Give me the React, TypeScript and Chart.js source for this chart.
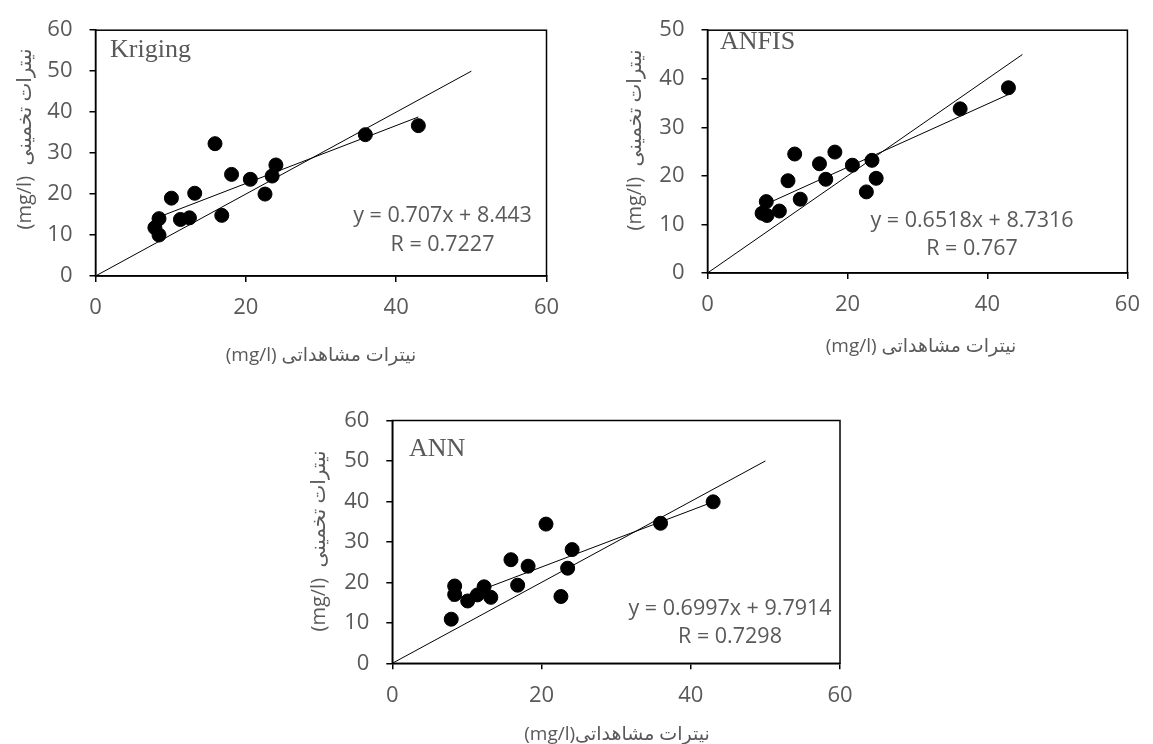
import React, { useEffect, useRef } from 'react';
import { Chart, registerables } from 'chart.js';

Chart.register(...registerables);

// ---------------- Data ----------------
const krigingObserved = [15.9, 10.1, 13.2, 8.45, 7.9, 8.45, 11.3, 12.5, 16.8, 18.1, 20.6, 22.55, 23.5, 24.0, 35.9, 42.95];
const krigingPredicted = [32.3, 19.0, 20.2, 14.0, 11.8, 10.0, 13.8, 14.2, 14.8, 24.8, 23.6, 20.0, 24.4, 27.1, 34.5, 36.7];

const anfisObserved = [12.46, 18.2, 16.0, 20.7, 23.5, 11.5, 16.9, 24.1, 22.7, 13.25, 8.4, 7.8, 8.5, 10.27, 36.1, 43.0];
const anfisPredicted = [24.5, 24.9, 22.5, 22.2, 23.2, 19.0, 19.3, 19.5, 16.7, 15.2, 14.7, 12.3, 11.85, 12.76, 33.8, 38.15];

const annObserved = [20.6, 24.1, 15.9, 18.2, 23.5, 8.36, 8.36, 16.8, 12.3, 11.4, 10.1, 13.2, 22.6, 7.9, 35.95, 43.0];
const annPredicted = [34.4, 28.1, 25.6, 24.0, 23.5, 19.1, 17.0, 19.3, 18.9, 16.9, 15.4, 16.3, 16.5, 10.9, 34.6, 39.9];

const modelNames = ['Kriging', 'ANFIS', 'ANN'];
const trendSlopes = [0.707, 0.6518, 0.6997];
const trendIntercepts = [8.443, 8.7316, 9.7914];
const equationLabels = ['y = 0.707x + 8.443', 'y = 0.6518x + 8.7316', 'y = 0.6997x + 9.7914'];
const rLabels = ['R = 0.7227', 'R = 0.767', 'R = 0.7298'];
const identityLineEnds = [50, 45, 50];
const xAxisMax = [60, 60, 60];
const yAxisMax = [60, 50, 60];
const xTickStep = 20;
const yTickStep = 10;
const unitLabel = '(mg/l)';
const xAxisWords = ['نیترات مشاهداتی', 'نیترات مشاهداتی', 'نیترات مشاهداتی'];
const xAxisGaps = [' ', ' ', ''];
const yAxisWords = ['نیترات تخمینی', 'نیترات تخمینی', 'نیترات تخمینی'];
const yAxisGaps = ['  ', '  ', '  '];

const observedSets = [krigingObserved, anfisObserved, annObserved];
const predictedSets = [krigingPredicted, anfisPredicted, annPredicted];

// ---------------- Layout (page pixels) ----------------
type Layout = {
  canvas: { left: number; top: number; width: number; height: number };
  plot: { left: number; top: number; right: number; bottom: number };
  model: { x: number; y: number };
  eq: { x: number; y: number };
  r: { x: number; y: number };
  xTitle: { x: number; y: number };
  yTitle: { x: number; y: number };
};

const layouts: Layout[] = [
  {
    canvas: { left: 0, top: 0, width: 575, height: 372 },
    plot: { left: 95.5, top: 25, right: 546.5, bottom: 276 },
    model: { x: 110, y: 57.3 },
    eq: { x: 442.5, y: 221.7 },
    r: { x: 442.5, y: 250.5 },
    xTitle: { x: 321, y: 361 },
    yTitle: { x: 31, y: 139 },
  },
  {
    canvas: { left: 600, top: 0, width: 553, height: 372 },
    plot: { left: 707.5, top: 17, right: 1137, bottom: 273 },
    model: { x: 720, y: 49.3 },
    eq: { x: 972, y: 226.7 },
    r: { x: 972, y: 255 },
    xTitle: { x: 921, y: 352 },
    yTitle: { x: 641, y: 140 },
  },
  {
    canvas: { left: 290, top: 390, width: 580, height: 354 },
    plot: { left: 392.3, top: 420.5, right: 840, bottom: 663.3 },
    model: { x: 409, y: 456 },
    eq: { x: 730, y: 615 },
    r: { x: 730, y: 643.3 },
    xTitle: { x: 617, y: 740 },
    yTitle: { x: 325, y: 541 },
  },
];

const GRAY = '#595959';
const SANS = '"Open Sans", "DejaVu Sans", sans-serif';
const SERIF = '"Liberation Serif", "DejaVu Serif", serif';

function drawMixed(ctx: CanvasRenderingContext2D, latin: string, gap: string, persian: string, cx: number, y: number) {
  ctx.direction = 'ltr';
  const w1 = ctx.measureText(latin).width;
  const wg = gap ? ctx.measureText(gap).width : 0;
  ctx.direction = 'rtl';
  const w2 = ctx.measureText(persian).width;
  const total = w1 + wg + w2;
  const x0 = cx - total / 2;
  ctx.direction = 'ltr';
  ctx.textAlign = 'left';
  ctx.fillText(latin, x0, y);
  ctx.direction = 'rtl';
  ctx.textAlign = 'right';
  ctx.fillText(persian, x0 + total, y);
  ctx.direction = 'ltr';
}

function makeAnnotationPlugin(i: number) {
  const lay = layouts[i];
  return {
    id: 'annot' + i,
    afterDraw(chart: any) {
      const { ctx, chartArea } = chart;
      const ox = lay.canvas.left;
      const oy = lay.canvas.top;
      ctx.save();
      // plot frame
      ctx.strokeStyle = '#000';
      ctx.lineWidth = 1.5;
      ctx.strokeRect(chartArea.left, chartArea.top, chartArea.right - chartArea.left, chartArea.bottom - chartArea.top);

      // model label
      ctx.fillStyle = GRAY;
      ctx.font = `26px ${SERIF}`;
      ctx.textAlign = 'left';
      ctx.textBaseline = 'alphabetic';
      ctx.fillText(modelNames[i], lay.model.x - ox, lay.model.y - oy);

      // equation & R
      ctx.font = `21.5px ${SANS}`;
      ctx.textAlign = 'center';
      ctx.fillText(equationLabels[i], lay.eq.x - ox, lay.eq.y - oy);
      ctx.fillText(rLabels[i], lay.r.x - ox, lay.r.y - oy);

      // axis titles
      ctx.font = `19px ${SANS}`;
      drawMixed(ctx, unitLabel, xAxisGaps[i], xAxisWords[i], lay.xTitle.x - ox, lay.xTitle.y - oy);
      ctx.save();
      ctx.translate(lay.yTitle.x - ox, lay.yTitle.y - oy);
      ctx.rotate(-Math.PI / 2);
      ctx.font = `20px ${SANS}`;
      drawMixed(ctx, unitLabel, yAxisGaps[i], yAxisWords[i], 0, 0);
      ctx.restore();
      ctx.restore();
    },
  };
}

function ScatterPanel({ index }: { index: number }) {
  const ref = useRef<HTMLCanvasElement | null>(null);
  const lay = layouts[index];

  useEffect(() => {
    if (!ref.current) return;
    const xs = observedSets[index];
    const ys = predictedSets[index];
    const points = xs.map((x, k) => ({ x, y: ys[k] }));
    const xMin = Math.min(...xs);
    const xMax = Math.max(...xs);
    const m = trendSlopes[index];
    const b = trendIntercepts[index];
    const trend = [
      { x: xMin, y: m * xMin + b },
      { x: xMax, y: m * xMax + b },
    ];
    const end = identityLineEnds[index];
    const identity = [
      { x: 0, y: 0 },
      { x: end, y: end },
    ];

    const c = lay.canvas;
    const p = lay.plot;
    const tickFont = { family: SANS, size: 22 };
    const gridOpts = {
      display: true,
      drawOnChartArea: false,
      drawTicks: true,
      tickLength: 6,
      color: '#000',
      lineWidth: 1.5,
    };

    const chart = new Chart(ref.current, {
      type: 'scatter',
      data: {
        datasets: [
          {
            data: points,
            backgroundColor: '#000',
            borderColor: '#000',
            borderWidth: 1,
            pointRadius: 7,
            pointHoverRadius: 7,
          },
          {
            data: identity,
            showLine: true,
            borderColor: '#000',
            borderWidth: 1,
            pointRadius: 0,
            fill: false,
          },
          {
            data: trend,
            showLine: true,
            borderColor: '#000',
            borderWidth: 1,
            pointRadius: 0,
            fill: false,
          },
        ],
      } as any,
      options: {
        animation: false,
        responsive: false,
        devicePixelRatio: 1,
        events: [],
        layout: {
          padding: {
            left: 0,
            top: p.top - c.top,
            right: c.left + c.width - p.right,
            bottom: 0,
          },
        },
        plugins: {
          legend: { display: false },
          tooltip: { enabled: false },
          title: { display: false },
        },
        scales: {
          x: {
            type: 'linear',
            min: 0,
            max: xAxisMax[index],
            ticks: { stepSize: xTickStep, color: GRAY, font: tickFont, padding: 13, maxRotation: 0 },
            grid: gridOpts,
            border: { display: true, color: '#000', width: 1.5 },
            afterFit: (s: any) => {
              s.height = c.top + c.height - p.bottom;
            },
          },
          y: {
            type: 'linear',
            min: 0,
            max: yAxisMax[index],
            ticks: { stepSize: yTickStep, color: GRAY, font: tickFont, padding: 17 },
            grid: gridOpts,
            border: { display: true, color: '#000', width: 1.5 },
            afterFit: (s: any) => {
              s.width = p.left - c.left;
            },
          },
        },
      } as any,
      plugins: [makeAnnotationPlugin(index)],
    });
    return () => chart.destroy();
  }, [index]);

  return (
    <canvas
      ref={ref}
      width={lay.canvas.width}
      height={lay.canvas.height}
      style={{
        position: 'absolute',
        left: lay.canvas.left,
        top: lay.canvas.top,
        width: lay.canvas.width,
        height: lay.canvas.height,
      }}
    />
  );
}

export default function App() {
  return (
    <div style={{ position: 'absolute', left: 0, top: 0, width: 1153, height: 744, background: '#fff', overflow: 'hidden' }}>
      <ScatterPanel index={0} />
      <ScatterPanel index={1} />
      <ScatterPanel index={2} />
    </div>
  );
}
